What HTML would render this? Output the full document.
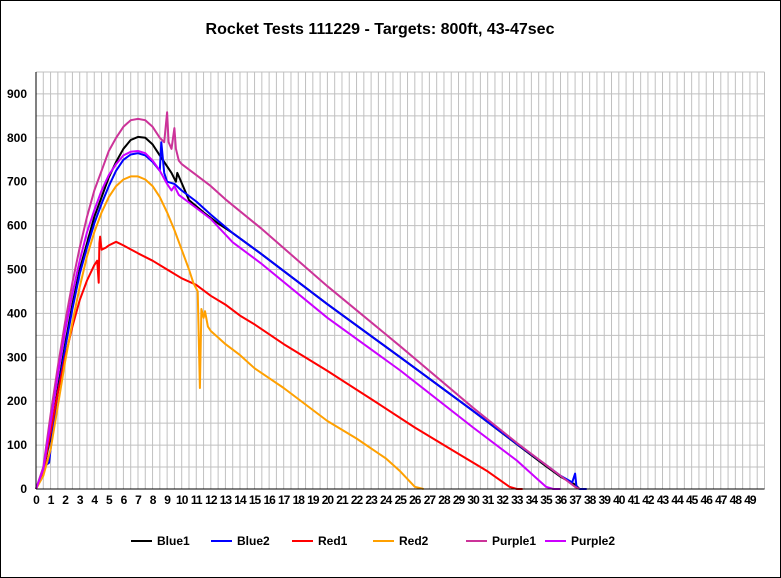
<!DOCTYPE html>
<html><head><meta charset="utf-8"><style>
body{margin:0;background:#fff}
svg{display:block;font-family:"Liberation Sans",Arial,sans-serif}
</style></head><body>
<svg id="chart" width="781" height="578" xmlns="http://www.w3.org/2000/svg">
<rect x="0.5" y="0.5" width="780" height="577" fill="#fff" stroke="#000"/>
<text x="380" y="34" text-anchor="middle" font-size="16" font-weight="bold">Rocket Tests 111229 - Targets: 800ft, 43-47sec</text>
<g id="grid"></g>
<g id="series"></g>
<g id="axes"></g>
<g id="legend"></g>
</svg>
<script>
const yTicks=[0,100,200,300,400,500,600,700,800,900];
const xTicks=Array.from({length:50},(_,i)=>i);
const seriesNames=["Blue1","Blue2","Red1","Red2","Purple1","Purple2"];
const seriesColors=["#000000","#0000ff","#ff0000","#ffa000","#cc3399","#cc00ff"];
const blue1=[[0,0],[0.5,40],[1,120],[1.5,230],[2,330],[2.5,420],[3,500],[3.5,560],[4,620],[4.5,665],[5,710],[5.5,745],[6,775],[6.5,795],[7,802],[7.5,800],[8,785],[8.5,760],[9,735],[9.3,720],[9.6,700],[9.7,720],[9.9,705],[10.5,658],[11.5,630],[12.5,605],[13.5,583],[15.4,537],[20,421],[25,300],[30,178],[33,102],[35,52],[36,28],[37,10],[37.3,0]];
const blue2=[[0,0],[0.5,40],[0.7,55],[0.9,60],[1.2,150],[1.5,220],[2,320],[2.5,410],[3,490],[3.5,550],[4,605],[4.5,650],[5,690],[5.5,725],[6,750],[6.5,762],[7,765],[7.5,760],[8,745],[8.5,725],[8.6,790],[8.8,720],[9,700],[9.5,695],[10,680],[11,655],[12,625],[13.5,583],[15.4,537],[20,421],[25,300],[30,178],[33,103],[35,55],[36,30],[36.8,15],[37,35],[37.1,5],[37.3,0],[37.8,0]];
const red1=[[0,0],[0.5,40],[1,130],[1.5,220],[2,300],[2.5,370],[3,430],[3.5,475],[4,510],[4.2,520],[4.3,470],[4.35,560],[4.4,575],[4.5,545],[4.8,550],[5,555],[5.5,563],[6,555],[7,537],[8,520],[9,500],[10,480],[11,465],[12,440],[13,420],[14,395],[15,375],[17,330],[20,269],[23,205],[26,140],[29,80],[31,40],[32.5,5],[33,0],[33.4,0]];
const red2=[[0,0],[0.5,30],[1,90],[1.5,190],[2,290],[2.5,380],[3,460],[3.5,530],[4,585],[4.5,630],[5,665],[5.5,690],[6,705],[6.5,712],[7,712],[7.5,705],[8,690],[8.5,665],[9,630],[9.5,590],[10,545],[10.5,500],[10.8,469],[11.1,450],[11.25,230],[11.35,410],[11.5,390],[11.6,405],[11.8,370],[12,360],[12.5,345],[13,330],[14,305],[15,275],[17,230],[20,155],[22,115],[24,70],[25,40],[26,5],[26.6,0]];
const purple1=[[0,0],[0.5,50],[1,170],[1.5,280],[2,380],[2.5,470],[3,550],[3.5,620],[4,680],[4.5,725],[5,770],[5.5,800],[6,825],[6.5,840],[7,843],[7.5,840],[8,825],[8.5,800],[8.8,790],[9,858],[9.1,790],[9.3,775],[9.5,822],[9.6,775],[9.8,748],[10,740],[11,715],[12,690],[13,660],[15.4,595],[20,462],[25,325],[30,185],[33,105],[35,55],[37,5],[37.3,0]];
const purple2=[[0,0],[0.5,45],[1,150],[1.5,260],[2,360],[2.5,445],[3,520],[3.5,585],[4,635],[4.5,680],[5,715],[5.5,740],[6,760],[6.5,768],[7,770],[7.5,765],[8,748],[8.5,725],[9,695],[9.3,680],[9.5,690],[9.8,670],[10,665],[11,640],[12,615],[13.5,562],[15.4,515],[20,390],[25,270],[30,140],[33,65],[34.5,20],[35,5],[35.5,0],[36,0]];
const allSeries=[blue1,blue2,red1,red2,purple1,purple2];

const X0=36,XPU=14.57,Y0=489,YPU=0.439,YMAX=950,XMAX=50;
const xs=v=>X0+v*XPU, ys=v=>Y0-v*YPU;
const NS="http://www.w3.org/2000/svg";
function mk(tag,attrs,parent,txt){const e=document.createElementNS(NS,tag);for(const k in attrs)e.setAttribute(k,attrs[k]);if(txt!==undefined)e.textContent=txt;parent.appendChild(e);return e;}
const grid=document.getElementById('grid'),axes=document.getElementById('axes'),ser=document.getElementById('series'),leg=document.getElementById('legend');
for(let v=0;v<=XMAX;v+=0.5){const l=mk('line',{x1:xs(v),x2:xs(v),y1:ys(YMAX),y2:Y0,stroke:'#c0c0c0','stroke-width':1},grid);

}
for(let v=0;v<=YMAX;v+=50){const l=mk('line',{x1:X0,x2:xs(XMAX),y1:ys(v),y2:ys(v),stroke:'#c0c0c0','stroke-width':1},grid);

}
const ya=mk('line',{x1:X0,x2:X0,y1:ys(YMAX),y2:Y0,stroke:'#000'},axes);


const xa=mk('line',{x1:X0,x2:xs(XMAX),y1:Y0,y2:Y0,stroke:'#000'},axes);


yTicks.forEach(v=>{const t=mk('text',{x:27,y:ys(v)+4,'text-anchor':'end','font-size':12,'font-weight':'bold'},axes,String(v));

});
xTicks.forEach(v=>{const t=mk('text',{x:xs(v),y:504,'text-anchor':'middle','font-size':12,'font-weight':'bold','letter-spacing':'-1'},axes,String(v));

});
allSeries.forEach((d,i)=>{const p=mk('polyline',{points:d.map(q=>xs(q[0]).toFixed(1)+','+ys(q[1]).toFixed(1)).join(' '),fill:'none',stroke:seriesColors[i],'stroke-width':2,'stroke-linejoin':'round'},ser);

});
const legX=[131,211,292,373,466,545];
seriesNames.forEach((n,i)=>{const g=mk('g',{},leg);


mk('line',{x1:legX[i],x2:legX[i]+21,y1:541,y2:541,stroke:seriesColors[i],'stroke-width':2},g);
mk('text',{x:legX[i]+26,y:545,'font-size':12,'font-weight':'bold'},g,n);});
</script>
</body></html>
